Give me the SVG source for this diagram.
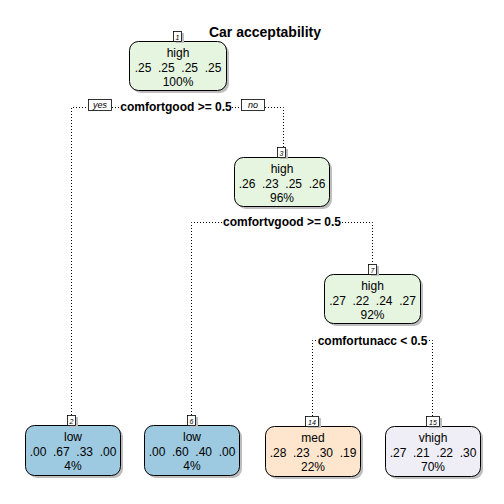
<svg xmlns="http://www.w3.org/2000/svg" width="504" height="504" viewBox="0 0 504 504">
<style>
text{font-family:"Liberation Sans",Arial,sans-serif;fill:#000}
.t{font-size:12px;text-anchor:middle;white-space:pre}
.s{font-size:12px;font-weight:bold;text-anchor:middle}
.n{font-size:7px;font-style:italic;text-anchor:middle}
.yn{font-size:9px;font-style:italic;text-anchor:middle}
.box{stroke:#000;stroke-width:1}
.sh{fill:#bebebe}
.lb{fill:#fff;stroke:#000;stroke-width:0.8}
.c{fill:none;stroke:#000;stroke-width:1;stroke-dasharray:1 2}
</style>
<rect width="504" height="504" fill="#fff"/>
<text x="265" y="37" style="font-size:14px;font-weight:bold;text-anchor:middle">Car acceptability</text>
<g id="connectors">
<path class="c" d="M71.5,415 V107.5 H87 M112,107.5 H119 M232,107.5 H241 M265,107.5 H283.5 V147"/>
<path class="c" d="M191.5,415 V222.5 H222 M342,222.5 H372.5 V264"/>
<path class="c" d="M312.5,416 V340.5 H316 M429,340.5 H432.5 V416"/>
<text class="s" x="176" y="111">comfortgood &gt;= 0.5</text>
<text class="s" x="282" y="226">comfortvgood &gt;= 0.5</text>
<text class="s" x="372.5" y="344.5">comfortunacc &lt; 0.5</text>
<g id="yes"><rect class="lb" x="88.5" y="99.5" width="23" height="11"/><text class="yn" x="100" y="108">yes</text></g>
<g id="no"><rect class="lb" x="241.5" y="99.5" width="23" height="11"/><text class="yn" x="253" y="108">no</text></g>
</g>
<g id="node1">
<rect class="sh" x="132" y="44" width="97" height="49" rx="9"/>
<rect class="box" x="129.5" y="41.5" width="97" height="49" rx="9" fill="#e5f5e0"/>
<rect class="sh" x="176" y="33" width="8" height="10"/>
<rect class="lb" x="173.5" y="31.5" width="8" height="10"/>
<text class="n" x="177.5" y="39.5">1</text>
<text class="t" x="178" y="57">high</text>
<text class="t" x="178" y="72">.25  .25  .25  .25</text>
<text class="t" x="178" y="86">100%</text>
</g>
<g id="node3">
<rect class="sh" x="237" y="160" width="95" height="49" rx="9"/>
<rect class="box" x="234.5" y="157.5" width="95" height="49" rx="9" fill="#e5f5e0"/>
<rect class="sh" x="280" y="149" width="8" height="10"/>
<rect class="lb" x="277.5" y="147.5" width="8" height="10"/>
<text class="n" x="281.5" y="155.5">3</text>
<text class="t" x="282" y="173">high</text>
<text class="t" x="282" y="188">.26  .23  .25  .26</text>
<text class="t" x="282" y="202">96%</text>
</g>
<g id="node7">
<rect class="sh" x="327" y="277" width="96" height="49" rx="9"/>
<rect class="box" x="324.5" y="274.5" width="96" height="49" rx="9" fill="#e5f5e0"/>
<rect class="sh" x="371" y="266" width="8" height="10"/>
<rect class="lb" x="368.5" y="264.5" width="8" height="10"/>
<text class="n" x="372.5" y="272.5">7</text>
<text class="t" x="372.5" y="290">high</text>
<text class="t" x="372.5" y="305">.27  .22  .24  .27</text>
<text class="t" x="372.5" y="319">92%</text>
</g>
<g id="node2">
<rect class="sh" x="28" y="428" width="95" height="50" rx="9"/>
<rect class="box" x="25.5" y="425.5" width="95" height="50" rx="9" fill="#9ecae1"/>
<rect class="sh" x="70" y="417" width="8" height="10"/>
<rect class="lb" x="67.5" y="415.5" width="8" height="10"/>
<text class="n" x="71.5" y="423.5">2</text>
<text class="t" x="73" y="441">low</text>
<text class="t" x="73" y="456">.00  .67  .33  .00</text>
<text class="t" x="73" y="470">4%</text>
</g>
<g id="node6">
<rect class="sh" x="147" y="428" width="95" height="50" rx="9"/>
<rect class="box" x="144.5" y="425.5" width="95" height="50" rx="9" fill="#9ecae1"/>
<rect class="sh" x="190" y="417" width="8" height="10"/>
<rect class="lb" x="187.5" y="415.5" width="8" height="10"/>
<text class="n" x="191.5" y="423.5">6</text>
<text class="t" x="192" y="441">low</text>
<text class="t" x="192" y="456">.00  .60  .40  .00</text>
<text class="t" x="192" y="470">4%</text>
</g>
<g id="node14">
<rect class="sh" x="268" y="429" width="95" height="50" rx="9"/>
<rect class="box" x="265.5" y="426.5" width="95" height="50" rx="9" fill="#fee6ce"/>
<rect class="sh" x="308" y="418" width="13" height="10"/>
<rect class="lb" x="305.5" y="416.5" width="13" height="10"/>
<text class="n" x="312" y="424.5">14</text>
<text class="t" x="313" y="442">med</text>
<text class="t" x="313" y="457">.28  .23  .30  .19</text>
<text class="t" x="313" y="471">22%</text>
</g>
<g id="node15">
<rect class="sh" x="388" y="429" width="95" height="50" rx="9"/>
<rect class="box" x="385.5" y="426.5" width="95" height="50" rx="9" fill="#efedf5"/>
<rect class="sh" x="429" y="418" width="13" height="10"/>
<rect class="lb" x="426.5" y="416.5" width="13" height="10"/>
<text class="n" x="433" y="424.5">15</text>
<text class="t" x="433" y="442">vhigh</text>
<text class="t" x="433" y="457">.27  .21  .22  .30</text>
<text class="t" x="433" y="471">70%</text>
</g>
</svg>
